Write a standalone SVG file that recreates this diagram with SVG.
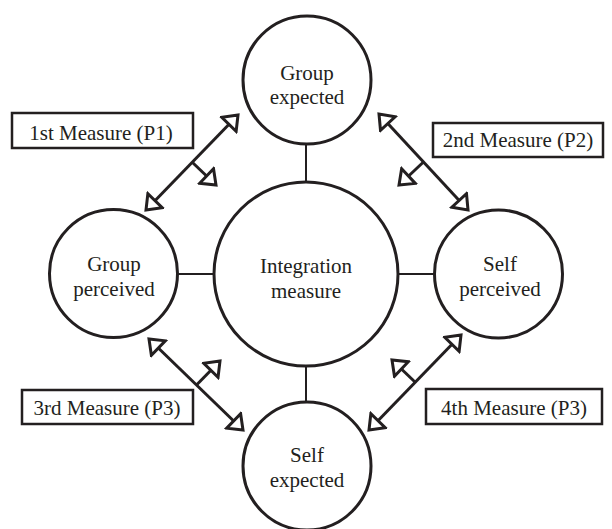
<svg xmlns="http://www.w3.org/2000/svg" width="612" height="529" viewBox="0 0 612 529">
<style>
  .node circle { fill: #fff; stroke: #231f20; stroke-width: 3; }
  .lbl { font-family: 'Liberation Serif', 'Times New Roman', Times, serif; font-size: 21px; fill: #231f20; text-anchor: middle; }
  .box rect { fill: #fff; stroke: #231f20; stroke-width: 2.5; }
  .link { stroke: #231f20; stroke-width: 2; fill: none; }
  .arr { stroke: #231f20; stroke-width: 3; fill: none; marker-end: url(#head); }
  .dbl { marker-start: url(#head); }
</style>
<defs>
  <marker id="head" markerUnits="userSpaceOnUse" viewBox="-17 -12 21 24" refX="0" refY="0" markerWidth="21" markerHeight="24" orient="auto-start-reverse">
    <path d="M0,0 L-13,-10 L-13,10 Z" fill="#fff" stroke="#231f20" stroke-width="3" stroke-linejoin="miter"/>
  </marker>
</defs>
<rect width="612" height="529" fill="#fff"/>
<g id="connectors">
  <line class="link" x1="306" y1="144" x2="306" y2="182"/>
  <line class="link" x1="306" y1="366" x2="306" y2="402"/>
  <line class="link" x1="177" y1="274" x2="214" y2="274"/>
  <line class="link" x1="398" y1="274" x2="435" y2="274"/>
  <line class="arr dbl" x1="146" y1="210" x2="238" y2="115"/>
  <line class="arr" x1="192.5" y1="162.5" x2="216" y2="185"/>
  <line class="arr dbl" x1="379" y1="114" x2="468" y2="210"/>
  <line class="arr" x1="423.5" y1="162" x2="399" y2="185"/>
  <line class="arr dbl" x1="149" y1="339" x2="243" y2="430"/>
  <line class="arr" x1="196.5" y1="385" x2="220" y2="361"/>
  <line class="arr dbl" x1="461" y1="335" x2="369" y2="430"/>
  <line class="arr" x1="415.5" y1="382.5" x2="392" y2="360"/>
</g>
<g id="integration" class="node">
  <circle cx="306" cy="274" r="92"/>
  <text class="lbl" x="306" y="273">Integration</text>
  <text class="lbl" x="306" y="298">measure</text>
</g>
<g id="group-expected" class="node">
  <circle cx="307" cy="80" r="64"/>
  <text class="lbl" x="307" y="80">Group</text>
  <text class="lbl" x="307" y="104">expected</text>
</g>
<g id="group-perceived" class="node">
  <circle cx="113.5" cy="273.5" r="64"/>
  <text class="lbl" x="114" y="271">Group</text>
  <text class="lbl" x="114" y="296">perceived</text>
</g>
<g id="self-perceived" class="node">
  <circle cx="498.5" cy="274" r="64"/>
  <text class="lbl" x="500" y="271">Self</text>
  <text class="lbl" x="500" y="296">perceived</text>
</g>
<g id="self-expected" class="node">
  <circle cx="307" cy="466" r="64"/>
  <text class="lbl" x="307" y="462">Self</text>
  <text class="lbl" x="307" y="487">expected</text>
</g>
<g id="measure1" class="box">
  <rect x="12" y="113" width="181" height="35"/>
  <text class="lbl" x="101" y="140">1st Measure (P1)</text>
</g>
<g id="measure2" class="box">
  <rect x="433" y="123" width="170" height="34"/>
  <text class="lbl" x="518" y="147">2nd Measure (P2)</text>
</g>
<g id="measure3" class="box">
  <rect x="22" y="390" width="171" height="34"/>
  <text class="lbl" x="107" y="415">3rd Measure (P3)</text>
</g>
<g id="measure4" class="box">
  <rect x="426" y="389" width="176" height="35"/>
  <text class="lbl" x="514" y="415">4th Measure (P3)</text>
</g>
</svg>
